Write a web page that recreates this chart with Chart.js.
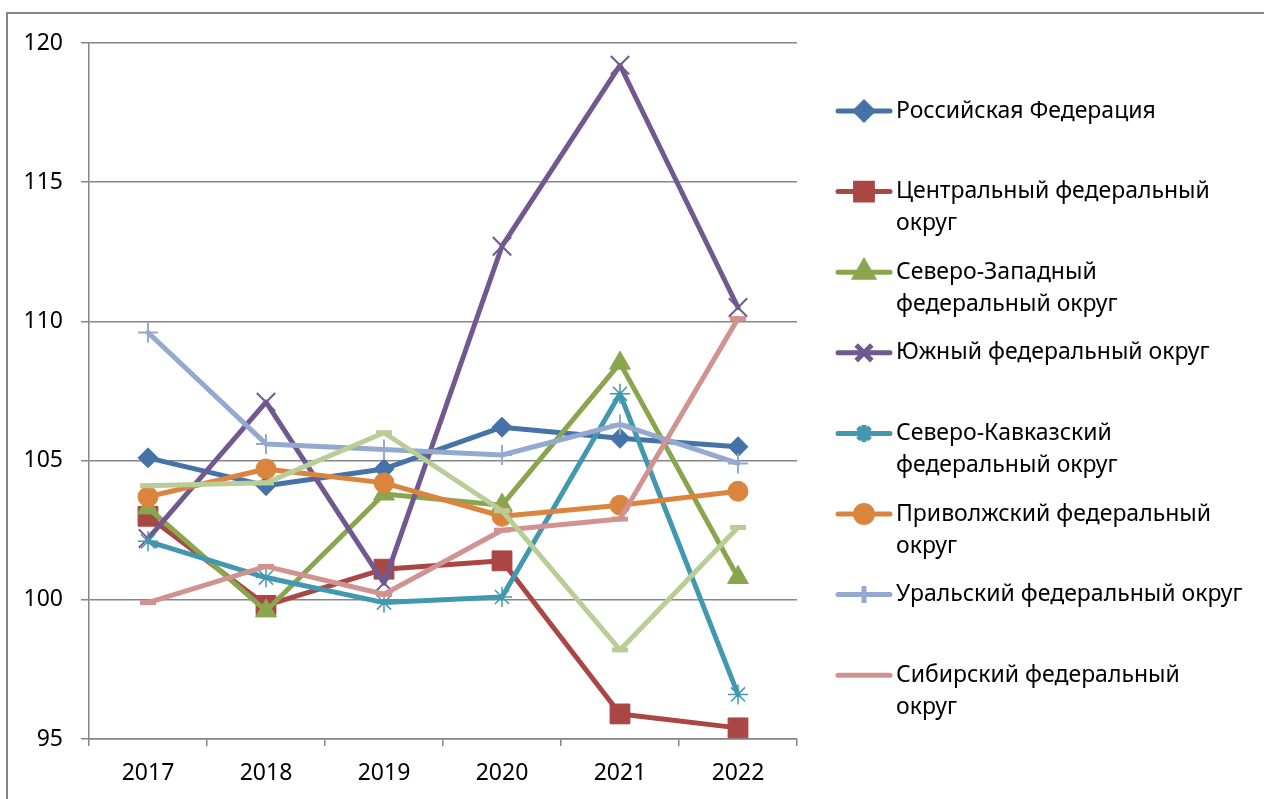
<!DOCTYPE html>
<html>
<head>
<meta charset="utf-8">
<script src="https://cdn.jsdelivr.net/npm/chart.js@4.4.1/dist/chart.umd.min.js"></script>
<style>
  html, body { margin: 0; padding: 0; background: #fff; }
  canvas { display: block; }
</style>
</head>
<body>
<canvas id="chart" width="1264" height="799"></canvas>
<script>
// Годы и шкала
const years = ['2017', '2018', '2019', '2020', '2021', '2022'];
const yTicks = [95, 100, 105, 110, 115, 120];

// Значения по округам (с картинки)
const rf   = [105.1, 104.1, 104.7, 106.2, 105.8, 105.5];
const cfo  = [103.0, 99.8, 101.1, 101.4, 95.9, 95.4];
const szfo = [103.3, 99.6, 103.8, 103.4, 108.5, 100.8];
const yfo  = [102.2, 107.1, 100.6, 112.7, 119.2, 110.5];
const skfo = [102.1, 100.8, 99.9, 100.1, 107.4, 96.6];
const pfo  = [103.7, 104.7, 104.2, 103.0, 103.4, 103.9];
const urfo = [109.6, 105.6, 105.4, 105.2, 106.3, 104.9];
const sfo  = [99.9, 101.2, 100.2, 102.5, 102.9, 110.1];
const dfo  = [104.1, 104.2, 106.0, 103.2, 98.2, 102.6];

const names = [
  'Российская Федерация',
  'Центральный федеральный\nокруг',
  'Северо-Западный\nфедеральный округ',
  'Южный федеральный округ',
  'Северо-Кавказский\nфедеральный округ',
  'Приволжский федеральный\nокруг',
  'Уральский федеральный округ',
  'Сибирский федеральный\nокруг',
  'Дальневосточный федеральный\nокруг'
];

const series = [rf, cfo, szfo, yfo, skfo, pfo, urfo, sfo, dfo];
const colors = ['#4572A7', '#AA4643', '#89A54E', '#71588F', '#4198AF', '#DB843D', '#93A9CF', '#D19392', '#B9CD96'];
const markers = [
  { style: 'rectRot', r: 10, bw: 1 },
  { style: 'rect', r: 14, bw: 1 },
  { style: 'triangle', r: 12, bw: 1 },
  { style: 'crossRot', r: 13, bw: 2 },
  { style: 'star', r: 10, bw: 1.5 },
  { style: 'circle', r: 10, bw: 1 },
  { style: 'cross', r: 10, bw: 2 },
  { style: 'line', r: 8, bw: 5 },
  { style: 'line', r: 8, bw: 5 }
];
const inLegend = 8; // последний ряд в легенду не попал

const datasets = series.map((vals, i) => ({
  label: names[i],
  data: vals,
  borderColor: colors[i],
  backgroundColor: colors[i],
  borderWidth: 5,
  borderJoinStyle: 'round',
  borderCapStyle: 'round',
  pointStyle: markers[i].style,
  pointRadius: markers[i].r,
  pointBorderWidth: markers[i].bw,
  pointBackgroundColor: colors[i],
  pointBorderColor: colors[i],
  tension: 0,
  order: series.length - i
}));

const gray = '#868686';
const font = '"Noto Sans", "Open Sans", sans-serif';

// рамка вокруг диаграммы
const framePlugin = {
  id: 'frame',
  beforeDraw(chart) {
    const ctx = chart.ctx;
    ctx.save();
    ctx.strokeStyle = gray;
    ctx.lineWidth = 2;
    ctx.strokeRect(7, 13, 1400, 1000);
    ctx.restore();
  }
};

// легенда справа, с переносами строк
const legendPlugin = {
  id: 'sideLegend',
  afterDraw(chart) {
    const ctx = chart.ctx;
    ctx.save();
    chart.data.datasets.slice(0, inLegend).forEach((ds, i) => {
      const y = 111 + i * 80.6;
      ctx.strokeStyle = ds.borderColor;
      ctx.lineWidth = 5;
      ctx.lineCap = 'round';
      ctx.beginPath();
      ctx.moveTo(838, y);
      ctx.lineTo(890, y);
      ctx.stroke();
      if (ds.pointStyle !== 'line') {
        ctx.fillStyle = ds.pointBackgroundColor;
        ctx.strokeStyle = ds.pointBorderColor;
        ctx.lineCap = 'butt';
        Chart.helpers.drawPoint(ctx, {
          pointStyle: ds.pointStyle,
          radius: ds.pointRadius * 0.85,
          borderWidth: ds.pointBorderWidth,
          rotation: 0
        }, 864, y);
      }
      ctx.fillStyle = '#000';
      ctx.font = '23px ' + font;
      ctx.textBaseline = 'middle';
      ctx.textAlign = 'left';
      ds.label.split('\n').forEach((line, k) => {
        ctx.fillText(line, 896, y + k * 32);
      });
    });
    ctx.restore();
  }
};

new Chart(document.getElementById('chart'), {
  type: 'line',
  data: { labels: years, datasets: datasets },
  options: {
    responsive: false,
    animation: false,
    devicePixelRatio: 1,
    layout: { padding: { left: 0, top: 43, right: 467, bottom: 0 } },
    plugins: {
      legend: { display: false },
      tooltip: { enabled: false }
    },
    scales: {
      x: {
        type: 'category',
        offset: true,
        afterFit: s => { s.height = 60; },
        grid: { drawOnChartArea: false, offset: true, tickLength: 7, color: gray, lineWidth: 1.5 },
        border: { color: gray, width: 1.5 },
        ticks: { color: '#000', font: { family: font, size: 23 }, padding: 14, maxRotation: 0 }
      },
      y: {
        min: yTicks[0],
        max: yTicks[yTicks.length - 1],
        afterFit: s => { s.width = 89; },
        afterBuildTicks: s => { s.ticks = yTicks.map(v => ({ value: v })); },
        grid: { color: gray, lineWidth: 1.5, tickLength: 8 },
        border: { color: gray, width: 1.5 },
        ticks: { color: '#000', font: { family: font, size: 23 }, padding: 18 }
      }
    }
  },
  plugins: [framePlugin, legendPlugin]
});
</script>
</body>
</html>
